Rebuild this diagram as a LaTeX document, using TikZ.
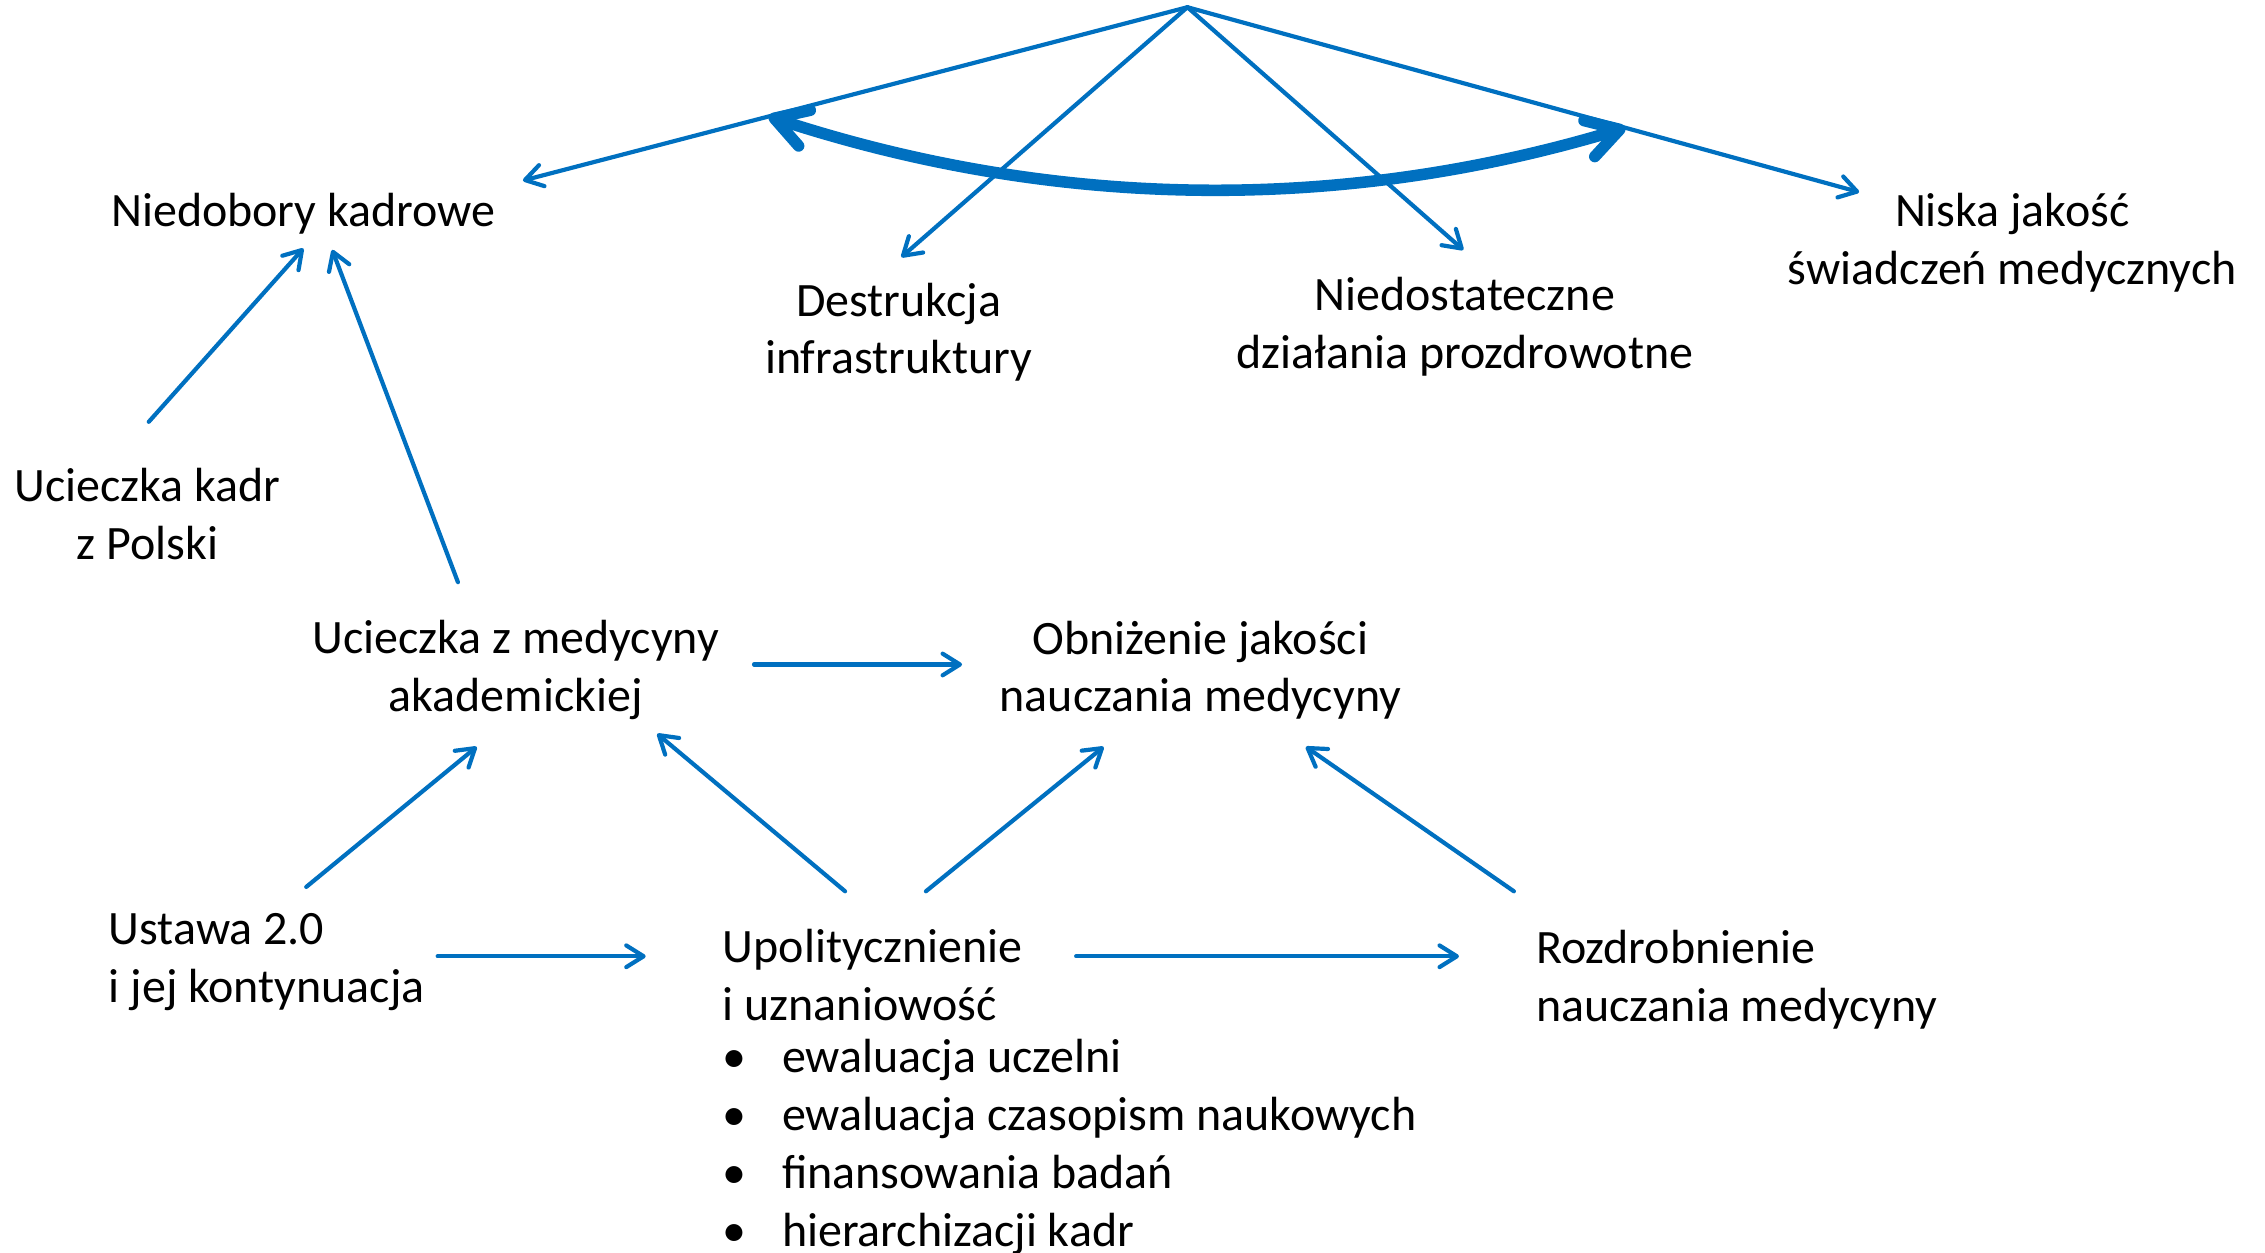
\documentclass[tikz,border=0pt]{standalone}
\usepackage{fontspec}
\setmainfont{Carlito}
\usetikzlibrary{arrows.meta,calc}
\definecolor{pblue}{HTML}{0070C0}
\begin{document}
\begin{tikzpicture}[x=0.5pt,y=-0.5pt,
  lbl/.style={inner sep=0pt,font=\fontsize{16.6}{20}\selectfont,text=black},
  arr/.style={draw=pblue,line width=1.45pt,line cap=round,
    -{Straight Barb[length=6pt,width=7.5pt,round]}},
  thickarr/.style={draw=pblue,line width=4pt,line cap=round,
    {Straight Barb[length=11pt,width=13pt,round]}-{Straight Barb[length=11pt,width=13pt,round]}}]
\path[use as bounding box] (0,0) rectangle (1568,867);

\coordinate (apex) at (822,5);
\node[lbl] (nied) at (210,148) {Niedobory kadrowe};
\node[lbl,align=center] (destr) at (622,230) {Destrukcja\\infrastruktury};
\node[lbl,align=center] (niedost) at (1014,226) {Niedostateczne\\działania prozdrowotne};
\node[lbl,align=center] (niska) at (1393,168) {Niska jakość\\świadczeń medycznych};
\node[lbl,align=center] (uckadr) at (102,356) {Ucieczka kadr\\z Polski};
\node[lbl,align=center] (ucmed) at (357,464) {Ucieczka z medycyny\\akademickiej};
\node[lbl,align=center] (obniz) at (831,464) {Obniżenie jakości\\nauczania medycyny};
\node[lbl,align=left,anchor=west] (ustawa) at (75,666) {Ustawa 2.0\\i jej kontynuacja};
\node[lbl,align=left,anchor=west] (upol) at (500,675) {Upolitycznienie\\i uznaniowość};
\node[lbl,align=left,anchor=west] (list) at (500,794) {%
  \makebox[20.5pt][l]{•}ewaluacja uczelni\\
  \makebox[20.5pt][l]{•}ewaluacja czasopism naukowych\\
  \makebox[20.5pt][l]{•}finansowania badań\\
  \makebox[20.5pt][l]{•}hierarchizacji kadr};
\node[lbl,align=left,anchor=west] (rozdr) at (1063,678) {Rozdrobnienie\\nauczania medycyny};

% top fan
\draw[arr] (apex) -- ([shift={(152,-23)}]nied.center) coordinate[pos=0.63] (L);
\draw[arr] (apex) -- ([shift={(2,-52)}]destr.center);
\draw[arr] (apex) -- ([shift={(-1,-53)}]niedost.center);
\draw[arr] (apex) -- ([shift={(-106,-35)}]niska.center) coordinate[pos=0.652] (R);
\coordinate (cc) at ($(L)!0.5!(R)+(0,93)$);
\draw[thickarr] (L) .. controls ($(L)!0.667!(cc)$) and ($(R)!0.667!(cc)$) .. (R);

% left
\draw[arr] ([shift={(1,-64)}]uckadr.center) -- ([shift={(0,24)}]nied.center);
\draw[arr] ([shift={(-40,-61)}]ucmed.center) -- ([shift={(20,25)}]nied.center);
\draw[arr] ([shift={(165,-4)}]ucmed.center) -- ([shift={(-165,-4)}]obniz.center);

% bottom
\draw[arr] ([shift={(137,-52)}]ustawa.west) -- ([shift={(-27,53)}]ucmed.center);
\draw[arr] ([shift={(85,-58)}]upol.west) -- ([shift={(98,44)}]ucmed.center);
\draw[arr] ([shift={(141,-58)}]upol.west) -- ([shift={(-67,53)}]obniz.center);
\draw[arr] ([shift={(-15,-61)}]rozdr.west) -- ([shift={(73,53)}]obniz.center);
\draw[arr] ([shift={(228,-4)}]ustawa.west) -- ([shift={(-53,-13)}]upol.west);
\draw[arr] ([shift={(245,-13)}]upol.west) -- ([shift={(-53,-16)}]rozdr.west);
\end{tikzpicture}
\end{document}
